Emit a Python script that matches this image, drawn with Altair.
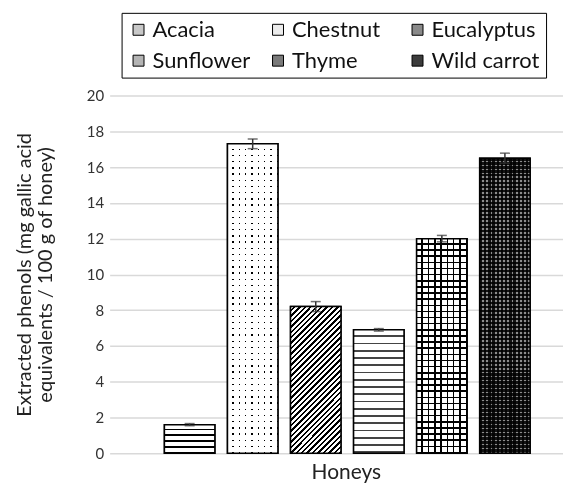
import altair as alt
import pandas as pd

honeys = ["Acacia", "Chestnut", "Eucalyptus", "Sunflower", "Thyme", "Wild carrot"]
phenols = [1.6, 17.3, 8.2, 6.9, 12.0, 16.5]
errors = [0.06, 0.27, 0.28, 0.07, 0.18, 0.28]
legend_grays = ["#c8c8c8", "#ececec", "#8a8a8a", "#b4b4b4", "#7a7a7a", "#3c3c3c"]
y_ticks = [0, 2, 4, 6, 8, 10, 12, 14, 16, 18, 20]

df = pd.DataFrame({"honey": honeys, "value": phenols, "err": errors})

FONT = "Lato"


def stripes(n, frac, bg, fg, x2=0.0, y2=1.0):
    stops = []
    for i in range(n):
        a = i / n
        b = (i + 1 - frac) / n
        c = (i + 1) / n
        stops += [
            {"offset": a, "color": bg},
            {"offset": b, "color": bg},
            {"offset": b, "color": fg},
            {"offset": c, "color": fg},
        ]
    return {"gradient": "linear", "x1": 0, "y1": 0, "x2": x2, "y2": y2, "stops": stops}


# pattern style per honey: list of (fill, blend)
patterns = {
    "Acacia": [(stripes(5, 0.3, "white", "black"), None)],
    "Chestnut": [
        (stripes(8, 0.22, "white", "black", 1, 0), None),
        (stripes(50, 0.22, "white", "black", 0, 1), "screen"),
    ],
    "Eucalyptus": [(stripes(36, 0.45, "white", "black", 0.414, 1.202), None)],
    "Sunflower": [(stripes(17, 0.25, "white", "#444444"), None)],
    "Thyme": [
        (stripes(8, 0.25, "white", "black", 1, 0), None),
        (stripes(35, 0.25, "white", "black", 0, 1), "multiply"),
    ],
    "Wild carrot": [
        (stripes(12, 0.4, "#1a1a1a", "#bdbdbd", 1, 0), None),
        (stripes(74, 0.4, "#1a1a1a", "#bdbdbd", 0, 1), "multiply"),
    ],
}

x_scale = alt.Scale(domain=honeys, paddingInner=0.2, paddingOuter=0.695, align=0.625)
x_axis = alt.Axis(
    labels=False, ticks=False, domain=False, grid=False,
    title="Honeys", titleFont=FONT, titleFontSize=21, titleFontWeight="normal",
    titleColor="#222222", titlePadding=8, titleX=237,
)
y_scale = alt.Scale(domain=[0, 20], nice=False)
y_axis = alt.Axis(
    values=y_ticks, labelOverlap=False, grid=True, gridColor="#d9d9d9",
    gridWidth=1.5, domain=False, ticks=False, labelFont=FONT, labelFontSize=15,
    labelColor="#333333", labelPadding=6,
    title=["Extracted phenols (mg gallic acid", "equivalents / 100 g of honey)"],
    titleFont=FONT, titleFontSize=20, titleFontWeight="normal",
    titleColor="#222222", titlePadding=31, titleLineHeight=21,
)


def X():
    return alt.X("honey:N", scale=x_scale, axis=x_axis)


def Y(field="value"):
    return alt.Y(f"{field}:Q", scale=y_scale, axis=y_axis)


base = alt.Chart(df)

legend_layer = base.mark_bar(stroke="black", strokeWidth=1.5).encode(
    x=X(),
    y=Y(),
    color=alt.Color(
        "honey:N",
        scale=alt.Scale(domain=honeys, range=legend_grays),
        legend=alt.Legend(
            title=None, orient="none", legendX=12, legendY=-83, columns=3,
            direction="horizontal", gridAlign="all", strokeColor="black", padding=6,
            labelFont=FONT, labelFontSize=22, labelColor="#111111", labelOffset=3,
            symbolType="square", symbolSize=121, symbolStrokeColor="black",
            symbolStrokeWidth=1, columnPadding=6, rowPadding=9,
        ),
    ),
)

layers = [legend_layer]
for h in honeys:
    for fill, blend in patterns[h]:
        kw = {"fill": fill, "strokeWidth": 0}
        if blend:
            kw["blend"] = blend
        layers.append(
            base.transform_filter(alt.datum.honey == h)
            .mark_bar(**kw)
            .encode(x=X(), y=Y())
        )

outline = base.mark_bar(fillOpacity=0, stroke="black", strokeWidth=1.5).encode(
    x=X(), y=Y()
)
layers.append(outline)

err_base = base.transform_calculate(
    lo="datum.value - datum.err", hi="datum.value + datum.err"
)
err_rule = err_base.mark_rule(color="#333333", strokeWidth=1.5).encode(
    x=X(), y=Y("lo"), y2="hi:Q"
)
err_hi = err_base.mark_tick(color="#333333", size=10, thickness=1.5).encode(
    x=X(), y=Y("hi")
)
err_lo = err_base.mark_tick(color="#333333", size=10, thickness=1.5).encode(
    x=X(), y=Y("lo")
)
layers += [err_rule, err_hi, err_lo]

chart = (
    alt.layer(*layers)
    .properties(width=455, height=359, padding={"top": 3, "left": 6, "right": 0, "bottom": 2})
    .configure_view(stroke=None)
)

chart.save("out.html", embed_options={"renderer": "svg", "actions": False})
